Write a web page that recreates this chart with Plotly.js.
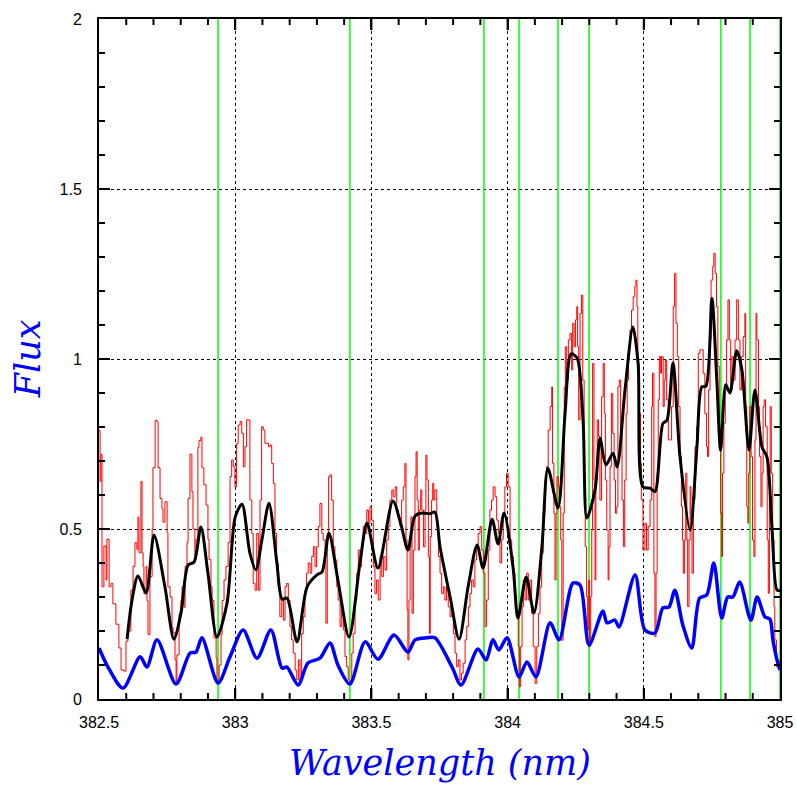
<!DOCTYPE html>
<html>
<head>
<meta charset="utf-8">
<script src="https://cdn.plot.ly/plotly-3.0.1.min.js"></script>
<style>html,body{margin:0;padding:0;background:#fff;}#chart{width:797px;height:797px;}</style>
</head>
<body>
<div id="chart"></div>
<script>
// Observed spectrum (red, noisy)
const redWave = [382.500,382.504,382.507,382.511,382.518,382.526,382.529,382.537,382.544,382.551,382.562,382.573,382.581,382.592,382.599,382.606,382.617,382.625,382.632,382.639,382.643,382.647,382.654,382.658,382.662,382.665,382.673,382.676,382.680,382.687,382.695,382.698,382.706,382.713,382.717,382.724,382.731,382.735,382.742,382.750,382.753,382.761,382.768,382.772,382.779,382.783,382.786,382.794,382.801,382.805,382.812,382.816,382.823,382.827,382.834,382.841,382.845,382.852,382.856,382.863,382.867,382.874,382.878,382.885,382.893,382.900,382.904,382.911,382.915,382.922,382.930,382.933,382.941,382.948,382.952,382.959,382.966,382.974,382.981,382.987,382.993,382.999,383.005,383.011,383.018,383.024,383.030,383.036,383.042,383.048,383.054,383.061,383.066,383.073,383.079,383.085,383.091,383.097,383.103,383.109,383.116,383.122,383.128,383.134,383.140,383.146,383.152,383.158,383.164,383.171,383.177,383.183,383.189,383.195,383.201,383.207,383.213,383.220,383.226,383.232,383.238,383.244,383.250,383.256,383.262,383.268,383.275,383.281,383.287,383.293,383.299,383.305,383.311,383.318,383.323,383.330,383.333,383.338,383.343,383.348,383.354,383.360,383.366,383.373,383.378,383.385,383.391,383.397,383.403,383.409,383.415,383.421,383.428,383.433,383.440,383.446,383.452,383.458,383.464,383.470,383.476,383.483,383.489,383.495,383.501,383.507,383.513,383.519,383.525,383.532,383.538,383.544,383.550,383.556,383.562,383.568,383.575,383.580,383.587,383.593,383.599,383.605,383.611,383.617,383.623,383.627,383.631,383.634,383.638,383.642,383.645,383.649,383.654,383.660,383.664,383.668,383.672,383.676,383.681,383.685,383.691,383.697,383.700,383.704,383.709,383.713,383.716,383.721,383.725,383.729,383.733,383.740,383.746,383.752,383.758,383.764,383.770,383.776,383.782,383.789,383.795,383.801,383.807,383.813,383.819,383.825,383.831,383.837,383.844,383.850,383.856,383.862,383.868,383.874,383.880,383.886,383.892,383.899,383.905,383.911,383.917,383.923,383.929,383.935,383.941,383.947,383.954,383.960,383.966,383.972,383.978,383.984,383.990,383.996,384.002,384.009,384.015,384.021,384.027,384.033,384.039,384.043,384.048,384.053,384.058,384.064,384.070,384.076,384.082,384.088,384.094,384.101,384.107,384.113,384.119,384.125,384.131,384.137,384.143,384.149,384.156,384.162,384.165,384.170,384.174,384.178,384.181,384.186,384.190,384.195,384.199,384.204,384.208,384.212,384.217,384.223,384.229,384.235,384.239,384.244,384.249,384.254,384.257,384.261,384.266,384.271,384.276,384.281,384.285,384.290,384.294,384.298,384.301,384.305,384.309,384.312,384.317,384.321,384.324,384.329,384.334,384.339,384.345,384.351,384.355,384.359,384.364,384.369,384.372,384.376,384.381,384.386,384.391,384.396,384.401,384.405,384.410,384.415,384.420,384.425,384.430,384.435,384.439,384.444,384.449,384.455,384.461,384.467,384.471,384.475,384.478,384.483,384.488,384.491,384.497,384.504,384.510,384.516,384.523,384.529,384.532,384.537,384.541,384.545,384.549,384.553,384.557,384.562,384.565,384.571,384.575,384.579,384.584,384.590,384.593,384.599,384.602,384.608,384.613,384.618,384.623,384.628,384.633,384.638,384.642,384.645,384.650,384.654,384.658,384.661,384.666,384.670,384.673,384.677,384.682,384.688,384.694,384.700,384.706,384.712,384.718,384.724,384.730,384.734,384.738,384.743,384.747,384.753,384.757,384.762,384.767,384.772,384.777,384.782,384.786,384.789,384.794,384.799,384.804,384.809,384.814,384.819,384.824,384.829,384.835,384.841,384.847,384.853,384.859,384.865,384.871,384.874,384.878,384.882,384.885,384.889,384.894,384.899,384.904,384.908,384.912,384.915,384.921,384.925,384.930,384.934,384.938,384.942,384.947,384.953,384.957,384.961,384.964,384.968,384.973,384.978,384.981,384.987,384.992,384.997];
const redFlux = [0.79,0.64,0.72,0.33,0.45,0.35,0.47,0.33,0.34,0.28,0.22,0.15,0.085,0.082,0.17,0.20,0.32,0.39,0.46,0.44,0.535,0.43,0.64,0.43,0.39,0.31,0.39,0.29,0.19,0.36,0.50,0.68,0.82,0.815,0.68,0.59,0.56,0.52,0.58,0.49,0.33,0.30,0.21,0.195,0.115,0.05,0.13,0.25,0.29,0.33,0.27,0.39,0.46,0.59,0.72,0.61,0.50,0.41,0.47,0.74,0.76,0.77,0.68,0.63,0.57,0.47,0.41,0.33,0.29,0.18,0.12,0.055,0.10,0.19,0.29,0.35,0.39,0.46,0.654,0.703,0.683,0.624,0.752,0.806,0.816,0.781,0.683,0.742,0.821,0.821,0.585,0.487,0.34,0.32,0.487,0.32,0.585,0.801,0.791,0.752,0.752,0.742,0.747,0.693,0.634,0.487,0.40,0.33,0.242,0.291,0.232,0.33,0.34,0.291,0.213,0.174,0.135,0.085,0.056,0.115,0.056,0.193,0.242,0.32,0.37,0.40,0.37,0.419,0.448,0.389,0.448,0.507,0.575,0.487,0.468,0.409,0.223,0.468,0.654,0.659,0.585,0.448,0.409,0.33,0.291,0.213,0.271,0.203,0.125,0.095,0.056,0.046,0.135,0.193,0.291,0.37,0.438,0.389,0.458,0.507,0.487,0.556,0.516,0.566,0.526,0.389,0.31,0.35,0.291,0.419,0.36,0.419,0.379,0.468,0.507,0.585,0.615,0.595,0.624,0.556,0.536,0.507,0.585,0.624,0.693,0.468,0.262,0.115,0.291,0.448,0.536,0.252,0.438,0.654,0.727,0.585,0.438,0.556,0.615,0.556,0.448,0.556,0.717,0.644,0.419,0.193,0.478,0.585,0.634,0.585,0.615,0.507,0.419,0.37,0.31,0.33,0.291,0.33,0.271,0.242,0.252,0.193,0.135,0.095,0.115,0.056,0.076,0.105,0.174,0.213,0.271,0.31,0.35,0.33,0.409,0.448,0.487,0.507,0.438,0.37,0.213,0.291,0.438,0.556,0.585,0.624,0.595,0.526,0.487,0.40,0.47,0.546,0.624,0.664,0.624,0.468,0.419,0.370,0.301,0.252,0.154,0.036,0.154,0.272,0.350,0.291,0.370,0.291,0.350,0.252,0.154,0.046,0.154,0.252,0.330,0.429,0.546,0.644,0.683,0.791,0.860,0.918,0.693,0.546,0.350,0.546,0.654,0.624,0.566,0.468,0.173,0.546,0.918,1.036,0.938,1.056,1.075,0.968,1.105,1.036,1.115,1.154,1.036,0.821,1.134,1.188,0.938,0.644,0.448,0.301,0.203,0.350,0.154,0.301,0.497,0.987,0.644,0.350,0.644,0.821,0.772,0.585,0.889,0.987,0.840,0.644,0.497,0.350,0.448,0.683,0.899,0.781,0.644,0.546,0.566,0.918,0.938,0.791,0.585,0.448,0.644,0.840,0.938,1.036,1.085,1.144,1.183,1.213,1.232,1.154,0.987,0.840,0.693,0.586,0.438,0.517,0.438,0.507,0.586,0.860,0.958,0.370,0.183,0.370,0.664,0.880,1.007,0.958,1.007,0.860,0.938,0.997,0.880,0.762,0.762,0.762,0.860,1.154,1.252,1.105,1.007,0.860,0.713,0.566,0.468,0.370,0.468,0.664,0.468,0.272,0.468,0.625,0.527,0.370,0.586,0.742,0.801,1.017,1.027,1.027,0.958,0.840,0.742,0.713,0.909,1.056,1.232,1.272,1.311,1.252,1.154,0.978,0.742,0.546,0.419,0.664,0.811,0.909,1.056,1.174,1.056,0.909,1.007,0.938,1.056,1.174,1.056,0.909,1.007,1.066,1.134,0.860,0.566,0.517,0.664,0.860,0.713,0.468,0.419,0.762,1.134,1.056,0.860,0.713,0.566,0.664,0.860,0.880,0.801,0.468,0.311,0.664,0.860,0.664,0.468,0.272,0.174,0.095,0.105,0.115];

// Smoothed spectrum (black)
const smoothWave = [382.603,382.621,382.643,382.673,382.702,382.742,382.775,382.801,382.827,382.849,382.874,382.900,382.933,382.970,383.000,383.025,383.054,383.076,383.098,383.124,383.153,383.172,383.190,383.227,383.264,383.300,383.319,383.344,383.377,383.418,383.458,383.484,383.524,383.579,383.609,383.634,383.660,383.686,383.715,383.733,383.752,383.789,383.822,383.855,383.888,383.910,383.943,383.965,383.987,384.020,384.038,384.068,384.097,384.126,384.148,384.185,384.211,384.233,384.255,384.277,384.291,384.321,384.339,384.361,384.387,384.402,384.431,384.460,384.479,384.497,384.523,384.541,384.570,384.585,384.607,384.633,384.670,384.695,384.713,384.728,384.750,384.768,384.782,384.801,384.816,384.841,384.860,384.886,384.908,384.934,384.952,384.971,384.989,385.000];
const smoothFlux = [0.176,0.29,0.362,0.312,0.482,0.33,0.176,0.253,0.394,0.403,0.506,0.37,0.182,0.282,0.535,0.573,0.429,0.38,0.468,0.576,0.40,0.294,0.297,0.168,0.33,0.365,0.374,0.488,0.35,0.182,0.40,0.518,0.385,0.582,0.512,0.438,0.538,0.547,0.545,0.55,0.447,0.30,0.176,0.33,0.453,0.385,0.529,0.456,0.547,0.388,0.238,0.359,0.253,0.447,0.679,0.562,0.841,1.015,1.003,0.82,0.532,0.615,0.767,0.688,0.723,0.682,0.909,1.094,0.988,0.624,0.62,0.61,0.81,0.82,0.988,0.712,0.497,0.741,0.918,0.92,1.179,0.938,0.732,0.924,0.90,1.024,0.968,0.732,0.909,0.741,0.712,0.497,0.32,0.32];

// Model spectrum (blue)
const modelWave = [382.500,382.533,382.588,382.651,382.676,382.713,382.783,382.834,382.856,382.878,382.937,382.981,383.029,383.080,383.131,383.172,383.190,383.231,383.267,383.311,383.348,383.377,383.421,383.477,383.524,383.583,383.634,383.660,383.704,383.733,383.796,383.829,383.891,383.921,383.946,383.968,383.998,384.042,384.071,384.104,384.156,384.189,384.240,384.266,384.299,384.350,384.365,384.394,384.409,384.468,384.504,384.541,384.570,384.592,384.614,384.643,384.676,384.705,384.731,384.757,384.786,384.808,384.827,384.852,384.893,384.916,384.945,384.963,384.974,384.989,385.000];
const modelFlux = [0.15,0.094,0.032,0.124,0.094,0.174,0.044,0.135,0.138,0.18,0.047,0.124,0.203,0.12,0.203,0.091,0.094,0.041,0.106,0.12,0.165,0.10,0.044,0.168,0.117,0.188,0.138,0.174,0.18,0.18,0.094,0.041,0.147,0.115,0.174,0.144,0.18,0.065,0.109,0.065,0.224,0.174,0.341,0.335,0.159,0.259,0.224,0.232,0.212,0.365,0.203,0.194,0.268,0.27,0.32,0.218,0.15,0.297,0.306,0.40,0.238,0.30,0.30,0.344,0.232,0.30,0.241,0.235,0.174,0.115,0.085];

// Marked line positions (green verticals)
const lineWave = [382.937,383.421,383.913,384.042,384.185,384.299,384.783,384.890,385.000];

// Axis texts and tick positions
const xTitle = 'Wavelength (nm)';
const yTitle = 'Flux';
const xMajorTicks = [383, 383.5, 384, 384.5];
const yMajorTicks = [0.5, 1, 1.5];
const xMinorTicks = [382.6,382.7,382.8,382.9,383.1,383.2,383.3,383.4,383.6,383.7,383.8,383.9,384.1,384.2,384.3,384.4,384.6,384.7,384.8,384.9];
const yMinorTicks = [0.1,0.2,0.3,0.4,0.6,0.7,0.8,0.9,1.1,1.2,1.3,1.4,1.6,1.7,1.8,1.9];

const xRange = [382.5, 385];
const yRange = [0, 2];

// green verticals as one trace spanning the full flux range
const greenX = [], greenY = [];
lineWave.forEach(w => { greenX.push(w, w, null); greenY.push(yRange[0], yRange[1], null); });

const traces = [
  {x: greenX, y: greenY, type: 'scatter', mode: 'lines',
   line: {color: '#00ff00', width: 1.5}},
  {x: redWave, y: redFlux, type: 'scatter', mode: 'lines',
   line: {color: '#ff0000', width: 1, shape: 'hv'}},
  {x: modelWave, y: modelFlux, type: 'scatter', mode: 'lines',
   line: {color: '#0000ff', width: 3.5, shape: 'spline', smoothing: 0.8}},
  {x: smoothWave, y: smoothFlux, type: 'scatter', mode: 'lines',
   line: {color: '#000000', width: 3, shape: 'spline', smoothing: 0.8}}
];

// Inside tick marks on all four sides, sized in pixels from the axis edges
const tickLine = {color: '#000', width: 2};
const shapes = [];
function xTicks(vals, len) {
  vals.forEach(v => {
    shapes.push({type: 'line', xref: 'x', yref: 'paper', ysizemode: 'pixel', yanchor: 0,
                 x0: v, x1: v, y0: 0, y1: len, line: tickLine, layer: 'above'});
    shapes.push({type: 'line', xref: 'x', yref: 'paper', ysizemode: 'pixel', yanchor: 1,
                 x0: v, x1: v, y0: 0, y1: -len, line: tickLine, layer: 'above'});
  });
}
function yTicks(vals, len) {
  vals.forEach(v => {
    shapes.push({type: 'line', xref: 'paper', yref: 'y', xsizemode: 'pixel', xanchor: 0,
                 x0: 0, x1: len, y0: v, y1: v, line: tickLine, layer: 'above'});
    shapes.push({type: 'line', xref: 'paper', yref: 'y', xsizemode: 'pixel', xanchor: 1,
                 x0: 0, x1: -len, y0: v, y1: v, line: tickLine, layer: 'above'});
  });
}
xTicks(xMajorTicks, 11); xTicks(xMinorTicks, 6);
yTicks(yMajorTicks, 11); yTicks(yMinorTicks, 6);

const tickFont = {family: 'Liberation Sans, Arial, sans-serif', size: 16, color: '#000'};
const titleFont = {family: 'DejaVu Serif, serif', size: 35, color: '#0000ff'};

const axisCommon = {
  showline: true, linecolor: '#000', linewidth: 2, mirror: 'allticks',
  ticks: 'inside', ticklen: 11, tickwidth: 2, tickcolor: '#000',
  showgrid: true, gridcolor: '#000', gridwidth: 1, griddash: '3px,3px',
  zeroline: false, tickfont: tickFont, automargin: false, fixedrange: true
};

const layout = {
  width: 797, height: 797,
  margin: {l: 99, r: 17, t: 19, b: 98},
  showlegend: false,
  hovermode: false,
  xaxis: Object.assign({}, axisCommon, {range: xRange, dtick: 0.5, tick0: 382.5, ticklabelstandoff: 8}),
  yaxis: Object.assign({}, axisCommon, {range: yRange, dtick: 0.5, tick0: 0, ticklabelstandoff: 12}),
  shapes: shapes,
  annotations: [
    {text: '<i>' + xTitle + '</i>', xref: 'paper', yref: 'paper', x: 0.5, y: -0.094,
     xanchor: 'center', yanchor: 'middle', showarrow: false, font: titleFont},
    {text: '<i>' + yTitle + '</i>', xref: 'paper', yref: 'paper', x: -0.104, y: 0.5,
     xanchor: 'center', yanchor: 'middle', textangle: -90, showarrow: false, font: titleFont}
  ]
};

Plotly.newPlot('chart', traces, layout, {staticPlot: true});
</script>
</body>
</html>
